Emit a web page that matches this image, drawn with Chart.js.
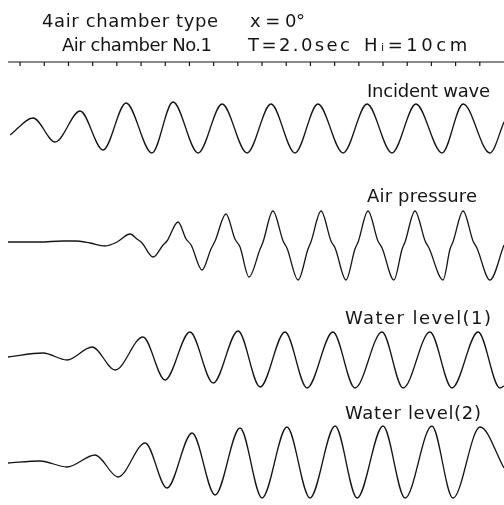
<!DOCTYPE html>
<html>
<head>
<meta charset="utf-8">
<script src="https://cdn.jsdelivr.net/npm/chart.js@4.4.1/dist/chart.umd.min.js"></script>
<style>
  html, body { margin: 0; padding: 0; background: #ffffff; }
  #wrap { width: 504px; height: 505px; }
</style>
</head>
<body>
<div id="wrap"><canvas id="c" width="504" height="505"></canvas></div>
<script>
// ---- time axis (seconds) ----
const timeMarks = [0,1,2,3,4,5,6,7,8,9,10,11,12,13,14,15,16,17,18,19];

// ---- Incident wave (cm) ----
const incidentT = [-0.41,0.54,1.45,2.48,3.43,4.38,5.45,6.32,7.36,8.35,9.38,10.37,11.36,12.31,13.35,14.34,15.37,16.36,17.44,18.31,19.42,20.0];
const incidentV = [-1.4,2.0,-2.8,3.4,-4.4,5.0,-5.0,5.2,-5.0,4.8,-5.0,4.8,-5.0,4.8,-5.0,4.8,-5.0,4.8,-5.0,4.8,-5.0,1.2];

// ---- Air pressure ----
const airT = [-0.50,0.83,1.74,2.27,2.89,3.51,4.01,4.55,4.83,5.04,5.50,5.91,6.07,6.53,6.86,7.07,7.52,7.89,8.06,8.51,8.88,9.09,9.46,
  9.92,10.04,10.45,10.87,11.03,11.49,
  11.90,12.02,12.44,12.85,13.02,13.47,
  13.84,13.97,14.38,14.79,14.96,15.45,
  15.79,15.91,16.32,16.74,16.90,17.48,
  17.77,17.89,18.31,18.72,18.88,19.42,20.0];
const airV = [0,0,0.2,0.2,-0.2,-0.8,0,1.6,0.6,-0.2,-3.0,-0.6,0.2,4.0,0.6,-0.6,-5.6,-1.4,0.2,5.6,0.6,-1.0,-7.0,
  -1.4,0.0,6.2,0.2,-1.2,-7.6,
  -1.4,0.0,6.2,0.2,-1.2,-7.6,
  -1.4,0.0,6.2,0.2,-1.2,-7.6,
  -1.4,0.0,6.2,0.2,-1.2,-7.6,
  -1.4,0.0,6.2,0.2,-1.2,-7.6,-0.6];

// ---- Water level (1) ----
const wl1T = [-0.50,0.95,1.94,2.98,3.93,5.08,5.99,7.02,7.98,9.01,9.92,10.95,11.86,12.93,13.84,14.96,15.83,16.94,17.85,18.93,19.83,20.0];
const wl1V = [0,0.8,-0.6,2.0,-2.6,4.0,-4.6,5.0,-5.2,5.2,-6.0,5.0,-6.2,5.0,-6.2,5.0,-6.2,5.0,-6.2,5.0,-6.2,-5.8];

// ---- Water level (2) ----
const wl2T = [-0.50,0.83,1.94,3.10,4.05,5.17,6.07,7.11,8.06,9.09,10.00,11.03,11.98,13.02,13.93,15.00,15.91,17.02,17.89,19.01,20.0];
const wl2V = [0,0.4,-0.8,1.6,-2.8,4.0,-5.0,6.0,-6.4,7.0,-7.0,7.2,-7.0,7.4,-7.0,7.4,-7.0,7.4,-7.0,7.2,-1.0];

// ---- text ----
const titleLines = [
  {text: '4air chamber type', x: 42, y: 27, w: 176, size: 18},
  {text: 'x = 0°', x: 250, y: 27, w: 55, size: 18},
  {text: 'Air chamber No.1', x: 62, y: 51, w: 150, size: 18},
  {text: 'T=2.0sec', x: 248, y: 51, w: 102, size: 18},
  {text: 'Hᵢ=10cm', x: 364, y: 51, w: 106, size: 18}
];
const seriesLabels = [
  {text: 'Incident wave', x: 367, y: 97, w: 123, size: 18},
  {text: 'Air pressure', x: 367, y: 202, w: 110, size: 18},
  {text: 'Water level(1)', x: 345, y: 324, w: 146, size: 18},
  {text: 'Water level(2)', x: 345, y: 419, w: 136, size: 18}
];

// build datasets
const zip = (ts, vs) => ts.map((t, i) => ({x: t, y: vs[i]}));
const NOTCH = 4;
const markerData = [{x: -0.5, y: 0}];
timeMarks.forEach(t => { markerData.push({x: t, y: 0}, {x: t, y: -NOTCH}, {x: t, y: 0}); });
markerData.push({x: 20, y: 0});

const ink = '#151515';
const lineStyle = {
  showLine: true, pointRadius: 0, borderColor: ink, borderWidth: 1.3,
  cubicInterpolationMode: 'monotone', fill: false
};

const textPlugin = {
  id: 'textPlugin',
  afterDraw(chart) {
    const ctx = chart.ctx;
    ctx.save();
    ctx.fillStyle = ink;
    ctx.textBaseline = 'alphabetic';
    ctx.textAlign = 'left';
    [...titleLines, ...seriesLabels].forEach(l => {
      ctx.font = l.size + 'px "DejaVu Sans", "Liberation Sans", sans-serif';
      if ('letterSpacing' in ctx) ctx.letterSpacing = '0px';
      const w0 = ctx.measureText(l.text).width;
      let sp = (l.w - w0) / Math.max(1, l.text.length - 1);
      sp = Math.max(-1.2, Math.min(3.5, sp));
      if ('letterSpacing' in ctx) ctx.letterSpacing = sp.toFixed(2) + 'px';
      ctx.fillText(l.text, l.x, l.y);
    });
    ctx.restore();
  }
};

new Chart(document.getElementById('c'), {
  type: 'scatter',
  data: {
    datasets: [
      {label: 'Time marks', data: markerData, yAxisID: 'ym', showLine: true, pointRadius: 0,
       borderColor: ink, borderWidth: 1.2, tension: 0},
      Object.assign({label: 'Incident wave', data: zip(incidentT, incidentV), yAxisID: 'yInc'}, lineStyle),
      Object.assign({label: 'Air pressure', data: zip(airT, airV), yAxisID: 'yAir'}, lineStyle),
      Object.assign({label: 'Water level(1)', data: zip(wl1T, wl1V), yAxisID: 'yW1'}, lineStyle),
      Object.assign({label: 'Water level(2)', data: zip(wl2T, wl2V), yAxisID: 'yW2'}, lineStyle)
    ]
  },
  options: {
    responsive: false,
    animation: false,
    layout: {padding: 0},
    plugins: {legend: {display: false}, tooltip: {enabled: false}, title: {display: false}},
    scales: {
      x: {type: 'linear', min: -0.83, max: 20.0, display: false},
      ym: {type: 'linear', min: -443, max: 62, display: false},
      yInc: {type: 'linear', min: -75.4, max: 25.6, display: false},
      yAir: {type: 'linear', min: -52.6, max: 48.4, display: false},
      yW1: {type: 'linear', min: -29.6, max: 71.4, display: false},
      yW2: {type: 'linear', min: -8.4, max: 92.6, display: false}
    }
  },
  plugins: [textPlugin]
});
</script>
</body>
</html>
